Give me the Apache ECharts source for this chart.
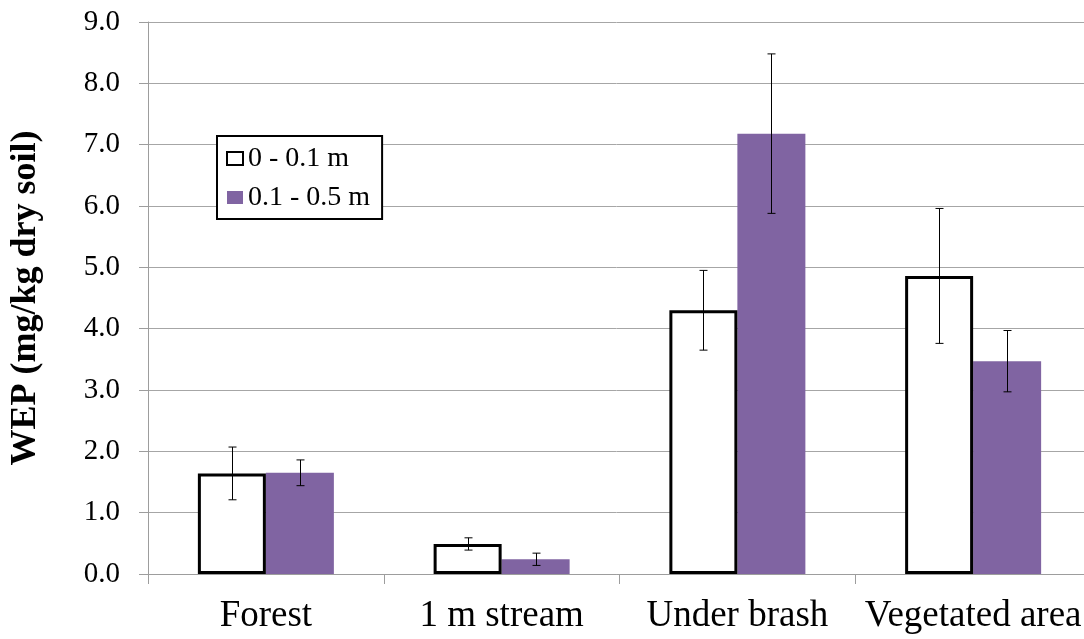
<!DOCTYPE html>
<html>
<head>
<meta charset="utf-8">
<title>WEP by site and depth</title>
<script src="https://cdn.jsdelivr.net/npm/echarts@6/dist/echarts.min.js"></script>
<style>
  html, body { margin: 0; padding: 0; background: #fff; }
  #chart { width: 1084px; height: 639px; }
</style>
</head>
<body>
<div id="chart"></div>
<script>
// Sites and sampling depths
const categories = ['Forest', '1 m stream', 'Under brash', 'Vegetated area'];
const depthNames = ['0 - 0.1 m', '0.1 - 0.5 m'];

// Mean water-extractable phosphorus (mg/kg dry soil)
const shallowMean = [1.64, 0.49, 4.30, 4.86];
const deepMean = [1.65, 0.24, 7.18, 3.47];

// Standard errors (symmetric)
const shallowErr = [0.43, 0.10, 0.65, 1.10];
const deepErr = [0.21, 0.10, 1.30, 0.50];

// Value-axis ticks
const yMin = 0, yMax = 9, yStep = 1;

const SERIF = "'Times New Roman', 'Liberation Serif', 'DejaVu Serif', serif";
const BAR_W = 68;
const PURPLE = '#8064A2';

function errorData(means, errs) {
  return means.map((m, i) => [i, m - errs[i], m + errs[i]]);
}

function errorSeries(name, means, errs, side) {
  return {
    type: 'custom',
    name: name + ' error',
    z: 10,
    silent: true,
    encode: { x: 0, y: [1, 2] },
    data: errorData(means, errs),
    renderItem: function (params, api) {
      const i = api.value(0);
      const lo = api.coord([i, api.value(1)]);
      const hi = api.coord([i, api.value(2)]);
      const x = Math.round(lo[0] + side * BAR_W / 2) + 0.5;
      const cap = 4;
      const style = { stroke: '#000', lineWidth: 1 };
      return {
        type: 'group',
        children: [
          { type: 'line', shape: { x1: x, y1: hi[1], x2: x, y2: lo[1] }, style: style },
          { type: 'line', shape: { x1: x - cap, y1: hi[1], x2: x + cap, y2: hi[1] }, style: style },
          { type: 'line', shape: { x1: x - cap, y1: lo[1], x2: x + cap, y2: lo[1] }, style: style }
        ]
      };
    }
  };
}

const chart = echarts.init(document.getElementById('chart'), null, { renderer: 'canvas' });

chart.setOption({
  backgroundColor: '#ffffff',
  animation: false,
  // plot area runs slightly past the right edge of the canvas
  grid: { left: 148, width: 943, top: 22, bottom: 65, containLabel: false, outerBoundsMode: 'none' },
  legend: {
    orient: 'vertical',
    left: 217,
    top: 136,
    padding: [8, 12, 7, 9],
    itemGap: 10,
    itemWidth: 16,
    itemHeight: 13,
    backgroundColor: '#fff',
    borderColor: '#000',
    borderWidth: 2,
    borderRadius: 0,
    textStyle: { fontFamily: SERIF, fontSize: 28, color: '#000', lineHeight: 29 },
    data: [
      { name: depthNames[0], icon: 'rect', itemStyle: { color: '#fff', borderColor: '#000', borderWidth: 2 } },
      { name: depthNames[1], icon: 'rect', itemStyle: { color: PURPLE, borderWidth: 0 } }
    ]
  },
  xAxis: {
    type: 'category',
    data: categories,
    axisLine: { show: true, lineStyle: { color: '#9d9d9d', width: 1 } },
    axisTick: { show: true, length: 10, lineStyle: { color: '#9d9d9d' } },
    axisLabel: { interval: 0, fontFamily: SERIF, fontSize: 37, color: '#000', margin: 24 },
    splitLine: { show: false }
  },
  yAxis: {
    type: 'value',
    min: yMin,
    max: yMax,
    interval: yStep,
    name: 'WEP (mg/kg dry soil)',
    nameLocation: 'middle',
    nameGap: 104,
    nameTextStyle: { fontFamily: SERIF, fontSize: 36, fontWeight: 'bold', color: '#000' },
    axisLine: { show: true, lineStyle: { color: '#9d9d9d', width: 1 } },
    axisTick: { show: true, inside: false, length: 9, lineStyle: { color: '#9d9d9d' } },
    axisLabel: {
      fontFamily: SERIF, fontSize: 29, color: '#000', margin: 28,
      formatter: v => v.toFixed(1)
    },
    splitLine: { show: true, lineStyle: { color: '#a6a6a6', width: 1 } }
  },
  series: [
    {
      type: 'bar',
      name: depthNames[0],
      data: shallowMean,
      barWidth: BAR_W,
      barGap: '0%',
      itemStyle: { color: '#ffffff', borderColor: '#000', borderWidth: 3 },
      z: 3
    },
    {
      type: 'bar',
      name: depthNames[1],
      data: deepMean,
      barWidth: BAR_W,
      barGap: '0%',
      itemStyle: { color: PURPLE },
      z: 2
    },
    errorSeries(depthNames[0], shallowMean, shallowErr, -1),
    errorSeries(depthNames[1], deepMean, deepErr, 1)
  ]
});
</script>
</body>
</html>
